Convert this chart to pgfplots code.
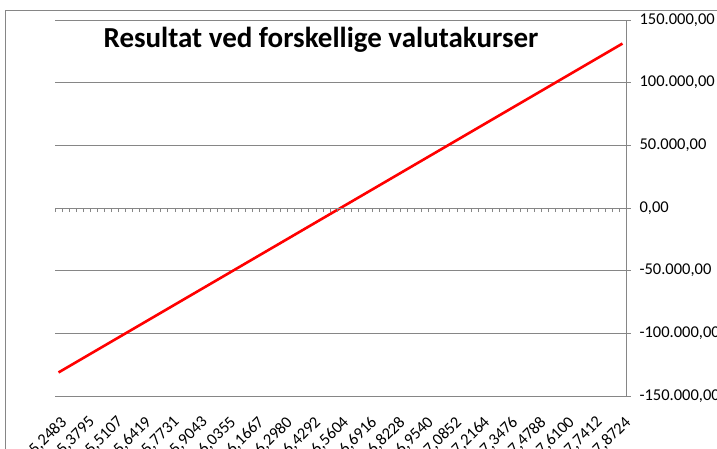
\documentclass[border=0pt]{standalone}
\usepackage{pgfplots}
\pgfplotsset{compat=1.18}
\usepackage{fontspec}
\setmainfont{Carlito}
\definecolor{gridgray}{RGB}{134,134,134}
\begin{document}
\begin{tikzpicture}
\useasboundingbox (0,0) rectangle (717pt,448pt);
\draw[gridgray, line width=0.8pt] (5pt,-10pt) -- (5pt,437.5pt) -- (730pt,437.5pt);
\node[font=\fontsize{29}{33}\selectfont\bfseries, anchor=base] at (321pt,400pt) {Resultat ved forskellige valutakurser};
\begin{axis}[
  at={(55pt,52pt)}, anchor=south west,
  scale only axis, width=571pt, height=376pt,
  xmin=-0.5, xmax=80.5, ymin=-150000, ymax=150000,
  enlargelimits=false, scaled y ticks=false,
  axis x line*=bottom, axis y line*=right,
  axis line style={gridgray, line width=0.8pt},
  x axis line style={draw=none},
  xtick={0,4,...,80},
  xticklabels={{5,2483},{5,3795},{5,5107},{5,6419},{5,7731},{5,9043},{6,0355},{6,1667},{6,2980},{6,4292},{6,5604},{6,6916},{6,8228},{6,9540},{7,0852},{7,2164},{7,3476},{7,4788},{7,6100},{7,7412},{7,8724}},
  x tick label style={font=\fontsize{16.5}{18}\selectfont, inner sep=0pt, xshift=1pt, yshift=-14pt, rotate=45, anchor=north east},
  xtick style={draw=none},
  ytick={-150000,-100000,-50000,0,50000,100000,150000},
  yticklabels={{-150.000,00},{-100.000,00},{-50.000,00},{0,00},{50.000,00},{100.000,00},{150.000,00}},
  y tick label style={font=\fontsize{16.5}{19}\selectfont, anchor=west, xshift=5pt},
  ytick style={gridgray, line width=0.8pt},
  tick align=outside, major tick length=5pt,
  ymajorgrids, grid style={gridgray, line width=0.8pt},
  clip=false,
]
\addplot[red, line width=2.6pt, no marks] coordinates {
(0,-131208) (1,-127928) (2,-124648) (3,-121367) (4,-118087) (5,-114807) (6,-111527) (7,-108247) (8,-104966) (9,-101686)
(10,-98406) (11,-95126) (12,-91846) (13,-88565) (14,-85285) (15,-82005) (16,-78725) (17,-75445) (18,-72164) (19,-68884)
(20,-65604) (21,-62324) (22,-59044) (23,-55763) (24,-52483) (25,-49203) (26,-45923) (27,-42643) (28,-39362) (29,-36082)
(30,-32802) (31,-29522) (32,-26242) (33,-22961) (34,-19681) (35,-16401) (36,-13121) (37,-9841) (38,-6560) (39,-3280)
(40,0) (41,3280) (42,6560) (43,9841) (44,13121) (45,16401) (46,19681) (47,22961) (48,26242) (49,29522)
(50,32802) (51,36082) (52,39362) (53,42643) (54,45923) (55,49203) (56,52483) (57,55763) (58,59044) (59,62324)
(60,65604) (61,68884) (62,72164) (63,75445) (64,78725) (65,82005) (66,85285) (67,88565) (68,91846) (69,95126)
(70,98406) (71,101686) (72,104966) (73,108247) (74,111527) (75,114807) (76,118087) (77,121367) (78,124648) (79,127928)
(80,131208)};
\end{axis}
\begin{axis}[
  at={(55pt,52pt)}, anchor=south west,
  scale only axis, width=571pt, height=376pt,
  xmin=-0.5, xmax=80.5, ymin=-150000, ymax=150000,
  enlargelimits=false,
  axis x line=middle, axis y line=none,
  x axis line style={gridgray, line width=0.8pt, -},
  xtick={-0.5,0.5,...,80.5},
  xticklabels={},
  xtick style={gridgray, line width=0.6pt},
  tick align=outside, major tick length=4pt,
]
\end{axis}
\end{tikzpicture}
\end{document}
